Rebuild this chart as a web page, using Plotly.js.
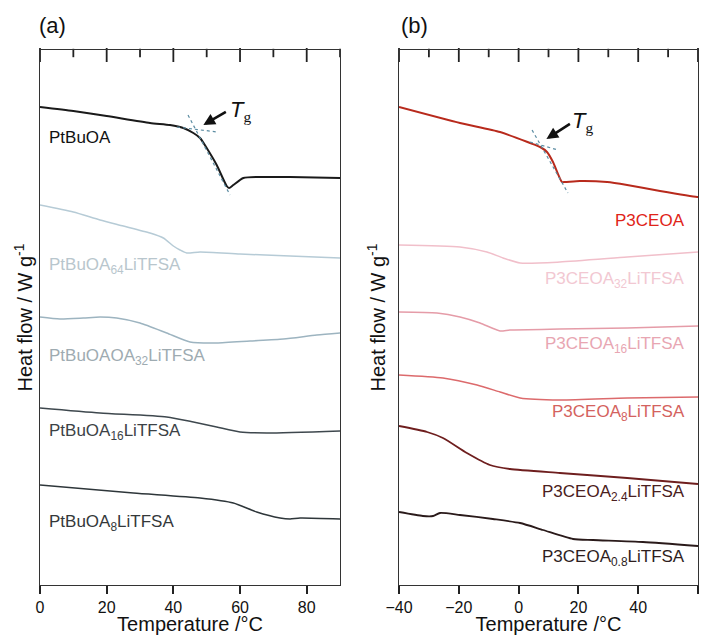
<!DOCTYPE html>
<html>
<head>
<meta charset="utf-8">
<script src="https://cdn.plot.ly/plotly-3.0.1.min.js"></script>
<style>html,body{margin:0;padding:0;background:#fff;}#chart{width:706px;height:635px;}</style>
</head>
<body>
<div id="chart"></div>
<script>
// ---------- Panel (a): PtBuOA series (Temperature °C, heat flow arb. units, stacked) ----------
const a_PtBuOA_T = [0, 10, 20, 33, 39, 43, 46, 48, 50, 53, 56, 56.7, 58, 61, 66, 75, 90];
const a_PtBuOA_H = [478, 474, 469, 462, 460, 457, 452, 447, 437, 420, 399, 397, 400, 407, 408, 408, 407];

const a_64_T = [0, 10, 18, 25, 33, 37, 40, 42, 44, 48, 60, 75, 90];
const a_64_H = [380, 373, 365, 359, 352, 347, 339, 335, 332, 333, 331, 329, 327];

const a_32_T = [0, 6, 13, 18, 23, 30, 38, 45, 53, 63, 73, 83, 90];
const a_32_H = [268, 266, 267, 268, 267, 262, 252, 243, 242, 244, 246, 250, 252];

const a_16_T = [0, 18, 38, 46, 53, 60, 68, 90];
const a_16_H = [177, 172, 168, 163, 158, 153, 152, 154];

const a_8_T = [0, 28, 48, 58, 65, 72, 75, 78, 90];
const a_8_H = [100, 92, 87, 82, 73, 67, 66, 67, 66];

// Tg tangent construction (a)
const a_tan1_T = [41.1, 53.1];
const a_tan1_H = [458, 453];
const a_tan2_T = [44.4, 57];
const a_tan2_H = [470, 390];

// ---------- Panel (b): P3CEOA series ----------
const b_P3_T = [-40, -19.6, -6.2, 3.8, 7.2, 9.5, 11.5, 14.5, 15.5, 20.5, 29.6, 36.3, 47.3, 59.7, 60];
const b_P3_H = [478, 462, 453, 442, 438, 433, 423, 403, 403, 404, 403, 400, 394, 388, 388];

const b_32_T = [-40, -19.6, -10.6, -5.2, 0.5, 13.8, 36.3, 60];
const b_32_H = [340, 338, 333, 327, 322, 323, 328, 333];

const b_16_T = [-40, -27.3, -19.6, -12.9, -6.2, -2.9, 13.8, 36.3, 60];
const b_16_H = [273, 272, 268, 262, 254, 255, 256, 257, 259];

const b_8_T = [-40, -25.3, -13.9, -6.2, 0.5, 13.8, 36.3, 60];
const b_8_H = [210, 207, 200, 193, 187, 185, 187, 188];

const b_24_T = [-40, -30.6, -25.3, -17.3, -9.6, -2.9, 13.8, 36.3, 60];
const b_24_H = [159, 153, 147, 132, 120, 116, 112, 107, 101];

const b_08_T = [-40, -32, -28.6, -26.3, -19.6, -8.6, 0.5, 8.2, 18.2, 24.9, 41.6, 60];
const b_08_H = [73, 69, 69, 72, 70, 66, 62, 55, 46, 45, 43, 39];

// Tg tangent construction (b)
const b_tan1_T = [3.8, 13.2];
const b_tan1_H = [443, 435];
const b_tan2_T = [4.5, 16.5];
const b_tan2_H = [455, 392];

// Labels
const a_labels = ['PtBuOA', 'PtBuOA<sub>64</sub>LiTFSA', 'PtBuOAOA<sub>32</sub>LiTFSA', 'PtBuOA<sub>16</sub>LiTFSA', 'PtBuOA<sub>8</sub>LiTFSA'];
const a_labelH = [448, 319, 228, 153, 62];
const b_labels = ['P3CEOA', 'P3CEOA<sub>32</sub>LiTFSA', 'P3CEOA<sub>16</sub>LiTFSA', 'P3CEOA<sub>8</sub>LiTFSA', 'P3CEOA<sub>2.4</sub>LiTFSA', 'P3CEOA<sub>0.8</sub>LiTFSA'];
const b_labelH = [365, 305, 240, 172, 92, 27];

// axis ranges / tick spacing
const xRangeA = [0, 90];
const xRangeB = [-40, 60];
const yRange = [0, 535];
const majorStep = 20;
const minorStep = 10;

// ---------- styling ----------
const aLine = ['#1a1a1a', '#b6cbd6', '#9db4c0', '#3e484e', '#2e363a'];
const aText = ['#111111', '#b8c6cd', '#9eabb1', '#3c4246', '#34383a'];
const bLine = ['#b82a1c', '#f1bfca', '#e59ca8', '#dc6a6c', '#6e1e1e', '#2a1a1a'];
const bText = ['#e02418', '#f2c8d2', '#e8a6b2', '#d4625e', '#4a2020', '#2e1e1e'];
const aWidth = [2, 1.5, 1.5, 1.5, 1.5];
const bWidth = [2, 1.5, 1.5, 1.5, 1.8, 1.8];

const aSeries = [[a_PtBuOA_T, a_PtBuOA_H], [a_64_T, a_64_H], [a_32_T, a_32_H], [a_16_T, a_16_H], [a_8_T, a_8_H]];
const bSeries = [[b_P3_T, b_P3_H], [b_32_T, b_32_H], [b_16_T, b_16_H], [b_8_T, b_8_H], [b_24_T, b_24_H], [b_08_T, b_08_H]];

const traces = [];
aSeries.forEach((s, i) => traces.push({x: s[0], y: s[1], xaxis: 'x', yaxis: 'y', mode: 'lines',
  line: {color: aLine[i], width: aWidth[i], shape: 'spline', smoothing: 0.6}, name: a_labels[i], showlegend: false, hoverinfo: 'skip'}));
bSeries.forEach((s, i) => traces.push({x: s[0], y: s[1], xaxis: 'x2', yaxis: 'y2', mode: 'lines',
  line: {color: bLine[i], width: bWidth[i], shape: 'spline', smoothing: 0.6}, name: b_labels[i], showlegend: false, hoverinfo: 'skip'}));

const tanStyle = {color: '#5b8ca2', width: 1.2, dash: 'dot'};
[[a_tan1_T, a_tan1_H], [a_tan2_T, a_tan2_H]].forEach(s => traces.push({x: s[0], y: s[1], xaxis: 'x', yaxis: 'y', mode: 'lines', line: tanStyle, showlegend: false, hoverinfo: 'skip'}));
[[b_tan1_T, b_tan1_H], [b_tan2_T, b_tan2_H]].forEach(s => traces.push({x: s[0], y: s[1], xaxis: 'x2', yaxis: 'y2', mode: 'lines', line: tanStyle, showlegend: false, hoverinfo: 'skip'}));

// Tick marks: bottom ticks point outward, top ticks point inward (y units here equal screen px)
const pxPerUnit = 1; // plot height 535 px over the 535-unit y range
function tickTrace(xa, ya, range, major) {
  const xs = [];
  for (let v = Math.ceil(range[0] / minorStep) * minorStep; v <= range[1] + 1e-9; v += minorStep) {
    const isMajor = Math.abs(v % majorStep) < 1e-9;
    if (isMajor === major) xs.push(v);
  }
  const lenBottom = major ? 8 : 5, lenTop = major ? 10 : 6;
  const out = [];
  out.push({x: xs, y: xs.map(() => yRange[0] - lenBottom / 2 / pxPerUnit), xaxis: xa, yaxis: ya, mode: 'markers', cliponaxis: false,
    marker: {symbol: 'line-ns', size: lenBottom, color: '#222', line: {color: '#222', width: 1.8}}, showlegend: false, hoverinfo: 'skip'});
  out.push({x: xs, y: xs.map(() => yRange[1] - lenTop / 2 / pxPerUnit), xaxis: xa, yaxis: ya, mode: 'markers', cliponaxis: false,
    marker: {symbol: 'line-ns', size: lenTop, color: '#222', line: {color: '#222', width: 1.8}}, showlegend: false, hoverinfo: 'skip'});
  return out;
}
[true, false].forEach(m => {
  tickTrace('x', 'y', xRangeA, m).forEach(t => traces.push(t));
  tickTrace('x2', 'y2', xRangeB, m).forEach(t => traces.push(t));
});

const FONT = 'Liberation Sans, Arial, Helvetica, sans-serif';
const annotations = [];
a_labels.forEach((t, i) => annotations.push({xref: 'x', yref: 'y', x: 2.1, y: a_labelH[i], text: t, showarrow: false,
  xanchor: 'left', yanchor: 'middle', font: {family: FONT, size: 17, color: aText[i]}}));
b_labels.forEach((t, i) => annotations.push({xref: 'x2', yref: 'y2', x: 56.3, y: b_labelH[i], text: t, showarrow: false,
  xanchor: 'right', yanchor: 'middle', font: {family: FONT, size: 17, color: bText[i]}}));

const tgText = '<i>T</i><sub><span style="font-family:Liberation Serif">g</span></sub>';
// Tg arrows
annotations.push({xref: 'x', yref: 'y', x: 49, y: 460, ax: 24, ay: -14, axref: 'pixel', ayref: 'pixel', text: '', showarrow: true,
  arrowhead: 2, arrowsize: 0.9, arrowwidth: 2.6, arrowcolor: '#111'});
annotations.push({xref: 'x', yref: 'y', x: 56.4, y: 474, text: tgText, showarrow: false, xanchor: 'left', yanchor: 'middle',
  font: {family: FONT, size: 22, color: '#111'}});
annotations.push({xref: 'x2', yref: 'y2', x: 9.3, y: 446, ax: 25, ay: -16, axref: 'pixel', ayref: 'pixel', text: '', showarrow: true,
  arrowhead: 2, arrowsize: 0.9, arrowwidth: 2.6, arrowcolor: '#111'});
annotations.push({xref: 'x2', yref: 'y2', x: 17.2, y: 463, text: tgText, showarrow: false, xanchor: 'left', yanchor: 'middle',
  font: {family: FONT, size: 22, color: '#111'}});

// panel letters
annotations.push({xref: 'paper', yref: 'paper', x: 0, xshift: -3, y: 1.0, yshift: 25, text: '(a)', showarrow: false, xanchor: 'left', yanchor: 'middle',
  font: {family: FONT, size: 22, color: '#111'}});
annotations.push({xref: 'paper', yref: 'paper', x: 0.5456, xshift: 0, y: 1.0, yshift: 25, text: '(b)', showarrow: false, xanchor: 'left', yanchor: 'middle',
  font: {family: FONT, size: 22, color: '#111'}});

const xBase = {
  showline: true, mirror: true, linecolor: '#333', linewidth: 1.4,
  tickmode: 'linear', dtick: majorStep,
  ticks: 'outside', ticklen: 8, tickwidth: 1.8, tickcolor: '#222',
  showgrid: false, zeroline: false,
  tickfont: {family: FONT, size: 16, color: '#111'},
  title: {text: 'Temperature /°C', font: {family: FONT, size: 20, color: '#111'}, standoff: 8},
  fixedrange: true
};
const yBase = {
  showline: true, mirror: true, linecolor: '#333', linewidth: 1.4,
  ticks: '', showticklabels: false, showgrid: false, zeroline: false, range: yRange,
  title: {text: 'Heat flow / W g<sup>-1</sup>', font: {family: FONT, size: 20, color: '#111'}, standoff: 6},
  fixedrange: true
};

const layout = {
  width: 706, height: 635,
  margin: {l: 40, r: 8, t: 50, b: 50},
  paper_bgcolor: '#fff', plot_bgcolor: '#fff',
  showlegend: false,
  xaxis: Object.assign({}, xBase, {domain: [0, 0.456], range: xRangeA, tick0: 0, anchor: 'y'}),
  xaxis2: Object.assign({}, xBase, {domain: [0.5456, 1], range: xRangeB, tick0: -40, anchor: 'y2'}),
  yaxis: Object.assign({}, yBase, {domain: [0, 1], anchor: 'x',
    title: Object.assign({}, yBase.title, {standoff: 0})}),
  yaxis2: Object.assign({}, yBase, {domain: [0, 1], anchor: 'x2'}),
  annotations: annotations
};

Plotly.newPlot('chart', traces, layout, {displayModeBar: false});
</script>
</body>
</html>
